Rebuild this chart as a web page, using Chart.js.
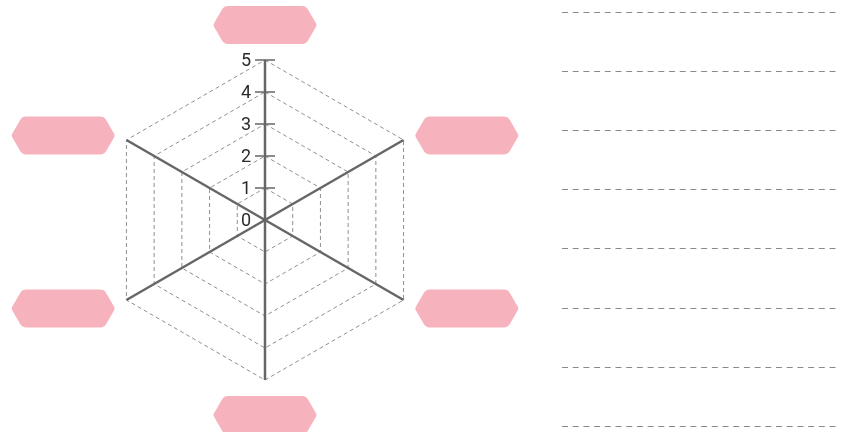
<!DOCTYPE html>
<html>
<head>
<meta charset="utf-8">
<script src="https://cdn.jsdelivr.net/npm/chart.js@4/dist/chart.umd.min.js"></script>
<style>
  html, body { margin: 0; padding: 0; background: #fff; overflow: hidden; }
  #wrap { position: relative; width: 842px; height: 432px; }
</style>
</head>
<body>
<div id="wrap"><canvas id="radar" width="842" height="432"></canvas></div>
<script>
// six blank skill labels (filled in by hand on the worksheet)
const categories = ["", "", "", "", "", ""]
const scores = [null, null, null, null, null, null]
const tickValues = [0, 1, 2, 3, 4, 5]
const noteLines = 8

const badgeColor = "#f7b3bd"

// pink hexagon badges at each axis end + tick numbers + the writing lines
const worksheetPlugin = {
  id: "worksheet",
  afterDraw(chart) {
    const ctx = chart.ctx
    const scale = chart.scales.r
    const cx = scale.xCenter, cy = scale.yCenter

    // tick marks and numbers on the vertical axis
    ctx.save()
    ctx.strokeStyle = "#666"
    ctx.lineWidth = 1.5
    ctx.fillStyle = "#2b2b2b"
    ctx.font = "18px Roboto"
    ctx.textAlign = "right"
    ctx.textBaseline = "middle"
    tickValues.forEach((v) => {
      const y = cy - scale.getDistanceFromCenterForValue(v)
      if (v > 0) {
        ctx.beginPath()
        ctx.moveTo(cx - 10, y)
        ctx.lineTo(cx + 10, y)
        ctx.stroke()
      }
      ctx.fillText(String(v), cx - 14, y + 1)
    })
    ctx.restore()

    // badges
    const w = 104, h = 38, tip = 11, rad = 7
    categories.forEach((label, i) => {
      const vertical = (i === 0 || i === 3)
      const p = scale.getPointPosition(i, scale.drawingArea + (vertical ? 16 : 13))
      let bx = p.x, by = p.y
      if (i === 0) by = p.y - h / 2
      else if (i === 3) by = p.y + h / 2
      else {
        by = p.y + 2
        bx = p.x > cx ? p.x + w / 2 : p.x - w / 2
      }
      const x0 = bx - w / 2, x1 = bx + w / 2
      const y0 = by - h / 2, y1 = by + h / 2
      ctx.save()
      ctx.fillStyle = badgeColor
      ctx.beginPath()
      ctx.moveTo(x0 + tip + rad, y0)
      ctx.arcTo(x1 - tip, y0, x1, by, rad)
      ctx.arcTo(x1, by, x1 - tip, y1, rad / 2)
      ctx.arcTo(x1 - tip, y1, x0 + tip, y1, rad)
      ctx.arcTo(x0 + tip, y1, x0, by, rad)
      ctx.arcTo(x0, by, x0 + tip, y0, rad / 2)
      ctx.arcTo(x0 + tip, y0, x1 - tip, y0, rad)
      ctx.closePath()
      ctx.fill()
      if (label) {
        ctx.fillStyle = "#333"
        ctx.font = "16px Roboto"
        ctx.textAlign = "center"
        ctx.textBaseline = "middle"
        ctx.fillText(label, bx, by)
      }
      ctx.restore()
    })

    // dashed writing lines on the right
    ctx.save()
    ctx.strokeStyle = "#8a8a8a"
    ctx.lineWidth = 1
    ctx.setLineDash([6, 4.7])
    for (let i = 0; i < noteLines; i++) {
      const y = Math.round(12 + i * 59.1) + 0.5
      ctx.beginPath()
      ctx.moveTo(562, y)
      ctx.lineTo(838, y)
      ctx.stroke()
    }
    ctx.restore()
  }
}

const ctx = document.getElementById("radar").getContext("2d")

new Chart(ctx, {
  type: "radar",
  data: {
    labels: categories,
    datasets: [
      {
        label: "score",
        data: scores,
        borderColor: "rgba(0,0,0,0)",
        backgroundColor: "rgba(0,0,0,0)",
        pointRadius: 0,
      },
    ],
  },
  options: {
    responsive: false,
    animation: false,
    devicePixelRatio: 1,
    layout: {
      padding: { left: 105, right: 417, top: 60, bottom: 52 },
    },
    plugins: {
      legend: { display: false },
      tooltip: { enabled: false },
    },
    scales: {
      r: {
        min: 0,
        max: 5,
        ticks: { stepSize: 1, display: false },
        pointLabels: { display: false },
        angleLines: { color: "#666", lineWidth: 2.5 },
        grid: { color: "#8f8f8f", lineWidth: 1 },
        border: { dash: [4, 3] },
      },
    },
  },
  plugins: [worksheetPlugin],
})
</script>
</body>
</html>
